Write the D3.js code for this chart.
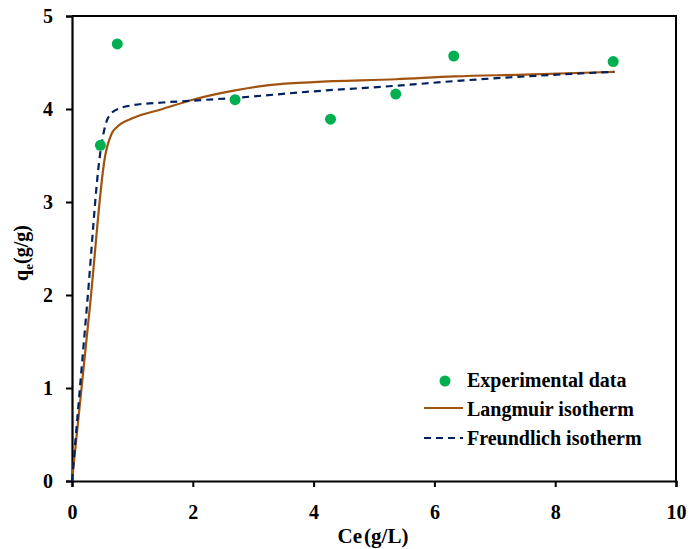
<!DOCTYPE html>
<html>
<head>
<meta charset="utf-8">
<script src="https://cdn.jsdelivr.net/npm/d3@7"></script>
<style>
  body { margin: 0; background: #fff; }
  svg text { font-family: "Liberation Serif", "Times New Roman", serif; font-weight: bold; fill: #000; }
</style>
</head>
<body>
<div id="chart"></div>
<script>
// experimental points
const expCe = [0.47, 0.75, 2.70, 4.28, 5.36, 6.32, 8.96];
const expQe = [3.61, 4.70, 4.10, 3.89, 4.16, 4.57, 4.51];

// model curves
const langCe = [0, 0.30, 0.55, 0.66, 0.75, 1.0, 1.5, 2.0, 2.7, 3.3, 4.0, 5.37, 6.33, 7.5, 8.98];
const langQe = [0, 1.90, 3.50, 3.74, 3.81, 3.90, 4.00, 4.10, 4.20, 4.26, 4.29, 4.32, 4.35, 4.37, 4.40];
const freuCe = [0, 0.25, 0.46, 0.55, 0.66, 0.8, 1.0, 1.5, 2.0, 2.7, 4.0, 5.37, 6.33, 7.5, 8.98];
const freuQe = [0, 1.90, 3.49, 3.82, 3.96, 4.01, 4.04, 4.07, 4.09, 4.12, 4.19, 4.25, 4.30, 4.35, 4.40];

const xTicks = [0, 2, 4, 6, 8, 10];
const yTicks = [0, 1, 2, 3, 4, 5];

const legendItems = ['Experimental data', 'Langmuir isotherm', 'Freundlich isotherm'];

const width = 700, height = 549;
const margin = { top: 16, right: 24, bottom: 68, left: 72 };
const chartWidth = width - margin.left - margin.right;
const chartHeight = height - margin.top - margin.bottom;

const green = '#00b050', brown = '#a0520f', navy = '#002060';

const svg = d3.select('#chart').append('svg')
  .attr('width', width)
  .attr('height', height);
const g = svg.append('g')
  .attr('transform', `translate(${margin.left},${margin.top})`);

const x = d3.scaleLinear().domain([0, 10]).range([0, chartWidth]);
const y = d3.scaleLinear().domain([0, 5]).range([chartHeight, 0]);

// frame top/right
g.append('path')
  .attr('d', `M0,0H${chartWidth}V${chartHeight}`)
  .attr('fill', 'none')
  .attr('stroke', '#000')
  .attr('stroke-width', 2);

const xAxis = g.append('g')
  .attr('transform', `translate(0,${chartHeight})`)
  .call(d3.axisBottom(x).tickValues(xTicks).tickFormat(d3.format('d')).tickSize(6).tickPadding(18));
const yAxis = g.append('g')
  .call(d3.axisLeft(y).tickValues(yTicks).tickFormat(d3.format('d')).tickSize(6).tickPadding(13));

[xAxis, yAxis].forEach(a => {
  a.select('.domain').attr('stroke-width', 2.2);
  a.selectAll('.tick line').attr('stroke-width', 2);
  a.selectAll('.tick text').style('font-size', '20px');
});

const line = d3.line().curve(d3.curveMonotoneX);

g.append('path')
  .datum(langCe.map((c, i) => [x(c), y(langQe[i])]))
  .attr('fill', 'none')
  .attr('stroke', brown)
  .attr('stroke-width', 2.2)
  .attr('d', line);

g.append('path')
  .datum(freuCe.map((c, i) => [x(c), y(freuQe[i])]))
  .attr('fill', 'none')
  .attr('stroke', navy)
  .attr('stroke-width', 2.2)
  .attr('stroke-dasharray', '7,5')
  .attr('d', line);

g.selectAll('circle.pt')
  .data(expCe)
  .join('circle')
  .attr('class', 'pt')
  .attr('cx', d => x(d))
  .attr('cy', (d, i) => y(expQe[i]))
  .attr('r', 5.5)
  .attr('fill', green);

// axis titles
const xt = svg.append('text')
  .attr('x', 373)
  .attr('y', 543)
  .attr('text-anchor', 'middle')
  .style('font-size', '21px');
xt.append('tspan').text('Ce');
xt.append('tspan').attr('dx', 2).text('(g/L)');

const yt = svg.append('text')
  .attr('transform', 'translate(28,253) rotate(-90)')
  .attr('text-anchor', 'middle')
  .style('font-size', '20px');
yt.append('tspan').text('q');
yt.append('tspan').attr('dy', 5).style('font-size', '13px').text('e');
yt.append('tspan').attr('dy', -5).text('(g/g)');

// legend
const leg = svg.append('g');
leg.append('circle').attr('cx', 445).attr('cy', 381).attr('r', 5.5).attr('fill', green);
leg.append('line').attr('x1', 424).attr('x2', 463).attr('y1', 408).attr('y2', 408)
  .attr('stroke', brown).attr('stroke-width', 2.2);
leg.append('line').attr('x1', 424).attr('x2', 463).attr('y1', 438).attr('y2', 438)
  .attr('stroke', navy).attr('stroke-width', 2.2).attr('stroke-dasharray', '7,5');
leg.selectAll('text.lg')
  .data(legendItems)
  .join('text')
  .attr('class', 'lg')
  .attr('x', 467)
  .attr('y', (d, i) => 387 + i * 29)
  .style('font-size', '20px')
  .text(d => d);
</script>
</body>
</html>
